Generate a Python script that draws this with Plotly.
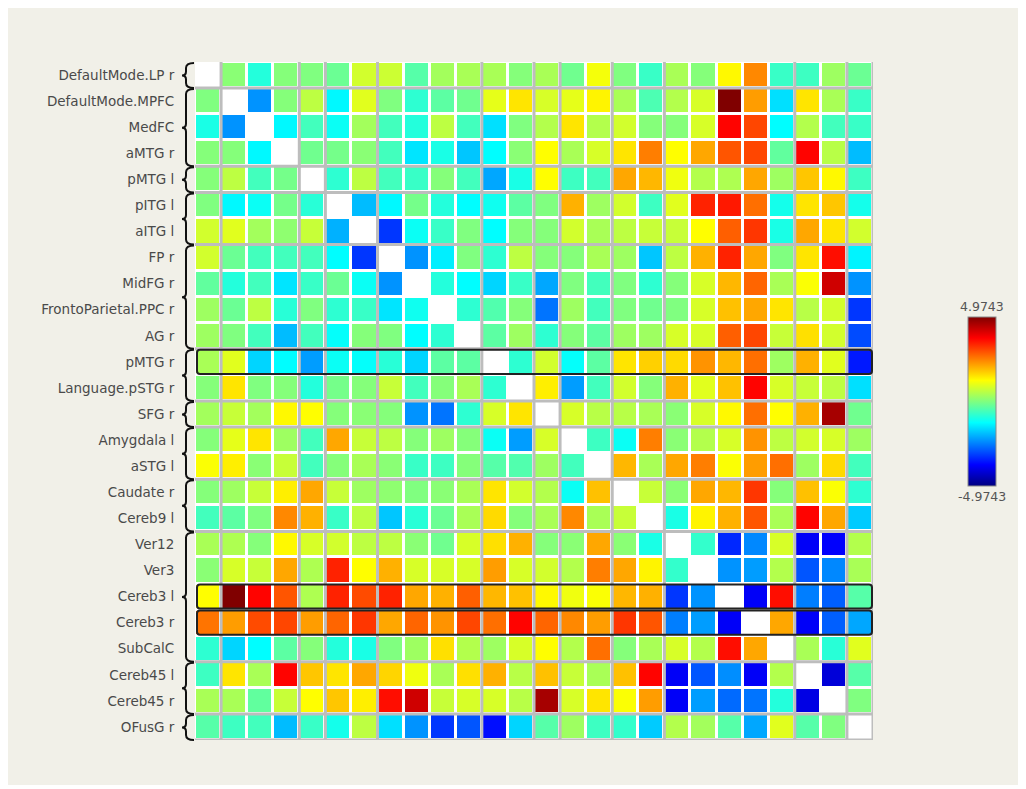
import plotly.graph_objects as go

labels = ["DefaultMode.LP r", "DefaultMode.MPFC", "MedFC", "aMTG r", "pMTG l", "pITG l", "aITG l",
          "FP r", "MidFG r", "FrontoParietal.PPC r", "AG r", "pMTG r", "Language.pSTG r", "SFG r",
          "Amygdala l", "aSTG l", "Caudate r", "Cereb9 l", "Ver12", "Ver3", "Cereb3 l", "Cereb3 r",
          "SubCalC", "Cereb45 l", "Cereb45 r", "OFusG r"]

row01 = [None, 0.1, -0.9, 0.05, 0.0, -0.2, 0.8, 0.75, -0.4, 0.35, 0.4, 0.4, 0.05, 0.4, -0.15, 1.15, 0.0, -0.7, 0.4, 0.05, 1.3, 2.4, -0.7, -0.65, 0.3, -0.2]
row02 = [0.0, None, -2.3, 0.05, 0.6, -1.3, 0.95, 0.0, -0.8, -0.35, -0.15, 1.0, 1.5, 0.85, 1.0, 1.35, 0.4, -0.5, 0.5, 0.85, 5.0, 2.2, -1.55, 1.5, 0.4, -0.7]
row03 = [-1.0, -2.3, None, -1.3, -0.6, -1.15, 0.35, -0.6, -0.9, 0.6, -0.6, -1.55, 0.0, 0.5, 1.5, 0.5, 0.8, 0.05, 0.05, 0.85, 3.7, 3.05, -1.25, 0.5, -0.6, -0.7]
row04 = [0.05, 0.05, -1.3, None, -0.15, -0.1, 0.1, -0.6, -1.5, -1.0, -1.8, -1.25, 0.1, 1.25, 0.4, 0.85, 1.5, 2.5, 1.25, 2.1, 2.9, 3.05, -0.3, 3.7, 0.55, -1.9]
row05 = [0.05, 0.6, -0.6, -0.1, None, -0.8, 0.6, -0.6, -0.7, 0.05, -0.6, -2.1, -1.0, 1.25, -0.65, -0.6, 2.1, 1.95, 1.1, 0.5, 0.45, 2.1, 0.3, 1.8, 1.3, -0.65]
row06 = [0.0, -1.3, -1.15, -0.1, -0.85, None, -1.9, -1.3, -0.1, -0.9, -1.25, -1.1, -0.35, 0.0, 2.0, 0.3, 0.8, -0.65, 0.95, 3.4, 3.5, 2.65, -1.05, 1.5, 1.8, -1.05]
row07 = [0.8, 0.95, 0.35, 0.15, 0.7, -2.0, None, -3.2, -1.15, -0.7, 0.0, -1.25, 0.05, 0.05, 0.8, 0.4, 0.6, 0.7, 0.7, 1.25, 2.8, 3.2, -1.0, 2.1, 1.5, 0.8]
row08 = [0.8, -0.2, -0.6, -0.6, -0.6, -1.25, -3.2, None, -2.3, -1.4, 0.0, -0.8, 0.6, 0.05, 0.05, 0.4, 0.3, -1.8, 0.6, 2.0, 3.4, 2.1, 0.0, 1.5, 3.6, -1.35]
row09 = [-0.3, -0.9, -0.6, -1.5, -0.7, -0.2, -1.15, -2.3, None, -0.9, -1.25, -1.65, -0.7, -2.1, 0.0, -0.6, 0.0, -0.8, 0.05, 0.85, 1.95, 2.75, 0.4, 1.2, 4.2, -2.3]
row10 = [0.3, -0.2, 0.6, -0.85, 0.0, -0.8, -0.7, -1.5, -1.1, None, -0.8, -0.45, 0.05, -2.6, 0.3, -0.6, 0.0, -0.15, 0.0, 0.85, 1.85, 2.1, 1.5, 0.55, 0.8, -3.2]
row11 = [0.3, 0.0, -0.6, -1.9, -0.6, -1.2, 0.05, 0.0, -1.25, -0.8, None, -0.35, 0.3, -0.8, 0.05, -0.35, 0.3, 0.3, 0.85, 0.85, 2.8, 3.05, 0.7, 1.55, 0.8, -3.0]
row12 = [0.4, 0.95, -1.65, -1.25, -2.2, -1.15, -1.2, -0.85, -1.65, -0.35, -0.35, None, -0.8, 0.8, -1.2, -0.35, 1.5, 1.7, 1.6, 2.3, 1.95, 2.65, 0.3, 2.0, 0.95, -3.5]
row13 = [0.05, 1.5, 0.0, 0.05, -0.9, -0.1, 0.05, 0.7, -0.6, 0.05, 0.4, -0.8, None, 1.4, -2.2, -0.6, 0.8, 0.05, 2.0, 0.95, 1.85, 3.7, 0.85, 0.7, 0.6, -1.55]
row14 = [0.35, 0.7, 0.35, 1.3, 1.25, 0.05, 0.1, 0.05, -2.3, -2.6, -0.8, 0.85, 1.5, None, 0.85, 0.55, 0.55, 0.4, 0.1, 0.85, 1.3, 2.65, 1.25, 2.0, 4.6, -0.15]
row15 = [0.05, 1.0, 1.5, 0.3, -0.6, 2.1, 0.7, 0.6, 0.05, 0.3, 0.05, -1.15, -2.2, 0.85, None, -0.65, -1.15, 2.5, 0.1, 0.5, 0.85, 2.3, 0.6, 0.8, 0.85, 0.3]
row16 = [1.2, 1.4, 0.1, 0.7, -0.6, 0.05, 0.4, 0.1, -0.7, -0.65, 0.05, -0.4, -0.45, 0.3, -0.6, None, 1.95, 0.4, 2.1, 2.5, 1.2, 2.2, 2.65, 0.3, 1.6, -0.6]
row17 = [0.05, 0.3, 0.7, 1.4, 2.1, 0.7, 0.3, 0.15, 0.0, 0.1, 0.4, 1.5, 0.8, 0.5, -1.15, 1.85, None, 0.7, 0.1, 2.1, 1.95, 3.2, 0.05, 1.85, 1.2, -0.8]
row18 = [-0.6, -0.35, 0.0, 2.4, 2.0, -0.7, 0.6, -1.8, -0.85, -0.2, 0.4, 1.6, 0.05, 0.4, 2.4, 0.4, 0.7, None, -1.0, 1.35, 2.0, 2.9, 0.4, 3.7, 2.1, -1.75]
row19 = [0.4, 0.45, 0.05, 1.3, 0.85, 0.8, 0.6, 0.6, 0.1, -0.15, 0.85, 1.55, 2.0, 0.05, 0.1, 2.1, 0.1, -1.0, None, -0.75, -3.35, -2.4, 0.85, -3.8, -3.75, 0.5]
row20 = [0.1, 0.85, 0.7, 2.1, 0.45, 3.4, 1.25, 2.0, 0.85, 0.85, 0.85, 2.2, 0.85, 0.8, 0.5, 2.5, 2.1, 1.35, -0.75, None, -2.3, -2.2, 0.5, -2.9, -2.4, 0.4]
row21 = [1.25, 5.0, 3.7, 2.9, 0.45, 3.4, 3.0, 3.4, 2.1, 2.0, 2.8, 1.95, 1.85, 1.3, 1.1, 1.2, 1.95, 2.0, -3.2, -2.3, None, -3.8, 3.6, -2.5, -2.8, -0.4]
row22 = [2.6, 2.2, 3.0, 3.05, 2.2, 2.75, 3.2, 2.1, 2.75, 2.3, 3.05, 2.65, 3.7, 2.75, 2.4, 2.2, 3.2, 2.9, -2.5, -2.2, -3.8, None, 2.1, -3.8, -2.8, -2.1]
row23 = [-0.8, -1.65, -1.25, -0.35, 0.05, -0.9, -1.0, 0.0, 0.3, 1.55, 0.5, 0.3, 0.85, 1.25, 0.5, 2.65, 0.05, 0.4, 0.85, 0.5, 3.6, 2.1, None, 0.4, -0.85, 0.95]
row24 = [-0.65, 1.5, 0.4, 3.7, 1.8, 1.5, 2.1, 1.65, 1.1, 0.4, 1.55, 2.0, 0.55, 1.85, 0.7, 0.4, 1.85, 3.7, -3.8, -2.9, -2.35, -3.8, 0.5, None, -4.1, -0.4]
row25 = [0.4, 0.4, -0.3, 0.7, 1.25, 1.8, 1.4, 3.6, 4.2, 0.7, 0.85, 0.85, 0.55, 4.6, 0.85, 1.5, 1.2, 2.2, -3.8, -2.2, -2.7, -2.6, -0.9, -4.0, None, 0.0]
row26 = [-0.4, -0.65, -0.6, -1.9, -0.7, -1.05, 0.6, -1.55, -2.3, -3.2, -2.9, -3.6, -1.65, -0.4, 0.3, -0.65, -0.75, -1.75, 0.5, 0.35, -0.4, -2.1, 0.95, -0.4, 0.0, None]

z = [row01, row02, row03, row04, row05, row06, row07, row08, row09, row10, row11, row12, row13,
     row14, row15, row16, row17, row18, row19, row20, row21, row22, row23, row24, row25, row26]

zlim = 4.9743
group_bounds = [0, 1, 4, 5, 7, 11, 13, 14, 16, 18, 23, 25, 26]
boxed_rows = [11, 20, 21]

n = len(labels)
W, H = 1010, 777
L, T, PW, PH = 187, 54, 678, 678
cell = PH / n

jet = [[0.0, "#000080"], [0.125, "#0000ff"], [0.375, "#00ffff"],
       [0.625, "#ffff00"], [0.875, "#ff0000"], [1.0, "#800000"]]

fig = go.Figure(go.Heatmap(
    z=z, x=list(range(n)), y=list(range(n)),
    colorscale=jet, zmin=-zlim, zmax=zlim, xgap=3, ygap=3, hoverongaps=False,
    colorbar=dict(x=(968 - 8 - L) / PW, xanchor="left", xpad=0, y=0.4993, yanchor="middle",
                  ypad=0, len=169, lenmode="pixels", thickness=28, thicknessmode="pixels",
                  outlinewidth=1, outlinecolor="#8a8a8a", showticklabels=False, ticks=""),
))

shapes = []
grey = "#bdbdbd"
for k in group_bounds[1:-1]:
    p = k - 0.5
    shapes.append(dict(type="line", xref="x", yref="y", x0=-0.5, x1=n - 0.5, y0=p, y1=p,
                       line=dict(color=grey, width=3), layer="above"))
    shapes.append(dict(type="line", xref="x", yref="y", x0=p, x1=p, y0=-0.5, y1=n - 0.5,
                       line=dict(color=grey, width=3), layer="above"))
shapes.append(dict(type="line", xref="x", yref="y", x0=n - 0.5, x1=n - 0.5, y0=-0.5, y1=n - 0.5,
                   line=dict(color=grey, width=3)))
shapes.append(dict(type="line", xref="x", yref="y", x0=-0.5, x1=n - 0.5, y0=n - 0.5, y1=n - 0.5,
                   line=dict(color=grey, width=3)))


def px(X):
    return (X - L) / PW


def py(Y):
    return 1 - (Y - T) / PH


# black rounded boxes around highlighted rows (paper coords)
for r in boxed_rows:
    x0, x1 = L + 2, L + PW - 1
    y0, y1 = T + r * cell + 1, T + (r + 1) * cell - 1
    rr = 3
    path = (f"M{px(x0 + rr)},{py(y0)} L{px(x1 - rr)},{py(y0)} Q{px(x1)},{py(y0)} {px(x1)},{py(y0 + rr)} "
            f"L{px(x1)},{py(y1 - rr)} Q{px(x1)},{py(y1)} {px(x1 - rr)},{py(y1)} "
            f"L{px(x0 + rr)},{py(y1)} Q{px(x0)},{py(y1)} {px(x0)},{py(y1 - rr)} "
            f"L{px(x0)},{py(y0 + rr)} Q{px(x0)},{py(y0)} {px(x0 + rr)},{py(y0)} Z")
    shapes.append(dict(type="path", xref="paper", yref="paper", path=path,
                       line=dict(color="#222222", width=2)))

# curly braces for groups
xe, xs, xc = L - 1, L - 9, L - 13
for a, b in zip(group_bounds[:-1], group_bounds[1:]):
    Y0 = T + a * cell + 1
    Y1 = T + b * cell
    ym = (Y0 + Y1) / 2
    path = (f"M{px(xe)},{py(Y0)} Q{px(xs)},{py(Y0)} {px(xs)},{py(Y0 + 5)} "
            f"L{px(xs)},{py(ym - 4)} Q{px(xs)},{py(ym)} {px(xc)},{py(ym)} "
            f"Q{px(xs)},{py(ym)} {px(xs)},{py(ym + 4)} "
            f"L{px(xs)},{py(Y1 - 5)} Q{px(xs)},{py(Y1)} {px(xe)},{py(Y1)}")
    shapes.append(dict(type="path", xref="paper", yref="paper", path=path,
                       line=dict(color="#111111", width=2)))

cb_x = px(982 - 8)
annotations = [
    dict(text=f"{zlim:.4f}", x=cb_x, y=py(317 - 8), xref="paper", yref="paper",
         xanchor="center", yanchor="bottom", showarrow=False, yshift=1,
         font=dict(size=12.5, color="#555555")),
    dict(text=f"{-zlim:.4f}", x=cb_x, y=py(486 - 8), xref="paper", yref="paper",
         xanchor="center", yanchor="top", showarrow=False, yshift=-1,
         font=dict(size=12.5, color="#555555")),
]

fig.update_layout(
    width=W, height=H, autosize=False,
    margin=dict(l=L, r=W - L - PW, t=T, b=H - T - PH, pad=0),
    paper_bgcolor="#f1f0e8", plot_bgcolor="#ffffff",
    font=dict(family="DejaVu Sans, Verdana, sans-serif", size=13, color="#444444"),
    shapes=shapes, annotations=annotations,
    xaxis=dict(range=[-0.5, n - 0.5], showticklabels=False, showgrid=False, zeroline=False,
               ticks="", fixedrange=True),
    yaxis=dict(range=[n - 0.5, -0.5], tickmode="array", tickvals=list(range(n)), ticktext=labels,
               showgrid=False, zeroline=False, ticks="outside", ticklen=17,
               tickcolor="rgba(0,0,0,0)", tickfont=dict(size=13.5, color="#4a4a4a")),
)

fig.write_html("out.html")
